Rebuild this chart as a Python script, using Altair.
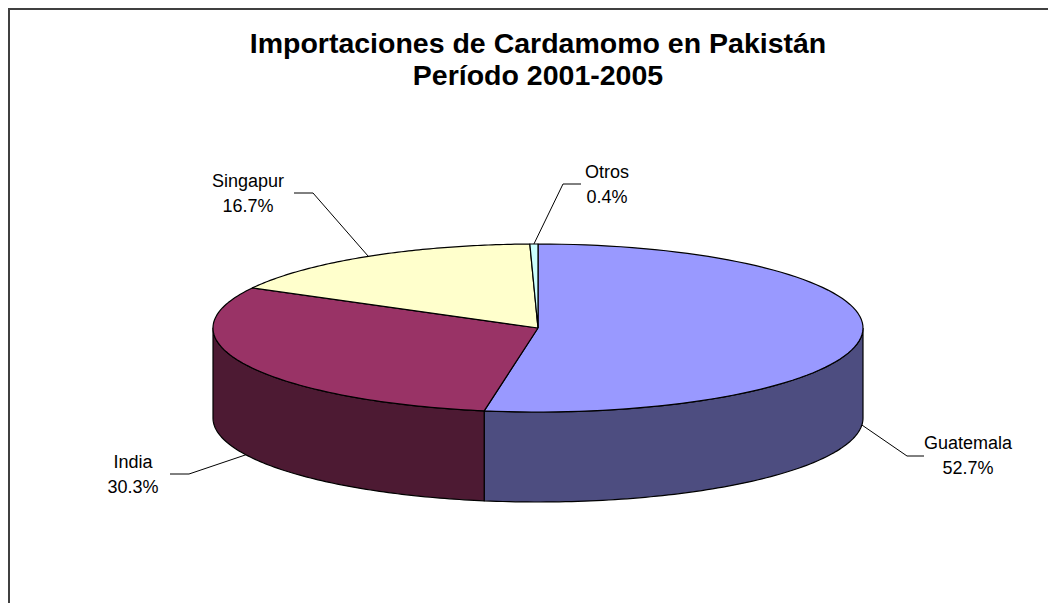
import altair as alt
import pandas as pd

# ---------------- data ----------------
SLICES = ["Guatemala", "India", "Singapur", "Otros"]
SHARES = [52.7, 30.3, 16.7, 0.4]
TITLE_LINES = ["Importaciones de Cardamomo en Pakistán", "Período 2001-2005"]

# ---------------- styles ----------------
TOP_COLORS = ["#9999FF", "#993366", "#FFFFCC", "#CCFFFF"]
SIDE_COLORS = ["#4D4D80", "#4D1A33", "#80805F", "#668080"]
FONT = "Liberation Sans"

# label layout (pixels relative to the pie centre):
# tx/ty text centre, ex leader elbow x, hx leader end x, ly leader y
LABEL_LAYOUT = {
    "Guatemala": dict(tx=430, ty=128, ex=369, hx=386, ly=128),
    "India": dict(tx=-405, ty=147, ex=-349, hx=-368, ly=146),
    "Singapur": dict(tx=-290, ty=-134, ex=-225, hx=-244, ly=-135),
    "Otros": dict(tx=69, ty=-143, ex=25, hx=43, ly=-144),
}
LINE_H = 25

W, H = 1040, 595          # plot size
CX, CY = 530, 320         # pie centre inside plot
A, B, DEPTH = 325, 84, 90  # ellipse semi-axes and 3D depth
N = 90                    # arc resolution

pie = pd.DataFrame({"slice": SLICES, "share": SHARES, "idx": list(range(len(SLICES)))})
layout_df = pd.DataFrame([{"slice": k, **v} for k, v in LABEL_LAYOUT.items()])
lab = pie.merge(layout_df, on="slice")

xs = alt.Scale(domain=[-CX, W - CX], nice=False, zero=False)
ys = alt.Scale(domain=[H - CY, -CY], nice=False, zero=False)


def angles(ch):
    return ch.transform_joinaggregate(total="sum(share)").transform_window(
        cum="sum(share)", sort=[alt.SortField("idx", order="ascending")], frame=[None, 0]
    ).transform_calculate(
        a0="2*PI*(datum.cum - datum.share)/datum.total"
    ).transform_calculate(
        a1="2*PI*datum.cum/datum.total"
    )


X = alt.X("px:Q", scale=xs, axis=None)
Y = alt.Y("py:Q", scale=ys, axis=None)

# side walls (front part of the cylinder)
side = angles(alt.Chart(pie)).transform_calculate(
    s0="max(datum.a0, PI/2)"
).transform_calculate(
    s1="min(datum.a1, 3*PI/2)"
).transform_filter("datum.s1 > datum.s0").transform_calculate(
    t=f"sequence(0, {2 * N + 3})"
).transform_flatten(["t"]).transform_calculate(
    ang=(f"datum.t <= {N} ? datum.s0 + (datum.s1 - datum.s0) * datum.t / {N} : "
         f"(datum.t <= {2 * N + 1} ? datum.s1 - (datum.s1 - datum.s0) * (datum.t - {N + 1}) / {N} : datum.s0)")
).transform_calculate(
    low=f"datum.t > {N} && datum.t <= {2 * N + 1}"
).transform_calculate(
    px=f"{A} * sin(datum.ang)"
).transform_calculate(
    py=f"-{B} * cos(datum.ang) + (datum.low ? {DEPTH} : 0)"
).mark_line(filled=True, stroke="black", strokeWidth=1.2, strokeJoin="round").encode(
    x=X, y=Y,
    order=alt.Order("t:Q"),
    detail="slice:N",
    fill=alt.Fill("slice:N", scale=alt.Scale(domain=SLICES, range=SIDE_COLORS), legend=None),
)

# top faces
top = angles(alt.Chart(pie)).transform_calculate(
    t=f"sequence(0, {N + 3})"
).transform_flatten(["t"]).transform_calculate(
    ang=f"datum.a0 + (datum.a1 - datum.a0) * clamp(datum.t - 1, 0, {N}) / {N}"
).transform_calculate(
    edge=f"datum.t >= 1 && datum.t <= {N + 1}"
).transform_calculate(
    px=f"datum.edge ? {A} * sin(datum.ang) : 0"
).transform_calculate(
    py=f"datum.edge ? -{B} * cos(datum.ang) : 0"
).mark_line(filled=True, stroke="black", strokeWidth=1.2, strokeJoin="round").encode(
    x=X, y=Y,
    order=alt.Order("t:Q"),
    detail="slice:N",
    fill=alt.Fill("slice:N", scale=alt.Scale(domain=SLICES, range=TOP_COLORS), legend=None),
)

# leader lines
leaders = angles(alt.Chart(lab)).transform_calculate(
    mid="(datum.a0 + datum.a1) / 2"
).transform_calculate(
    t="sequence(0, 3)"
).transform_flatten(["t"]).transform_calculate(
    px=f"datum.t == 0 ? {A} * sin(datum.mid) : (datum.t == 1 ? datum.ex : datum.hx)"
).transform_calculate(
    py=f"datum.t == 0 ? -{B} * cos(datum.mid) + (cos(datum.mid) < 0 ? {DEPTH} : 0) : datum.ly"
).mark_line(color="black", strokeWidth=1).encode(
    x=X, y=Y, order=alt.Order("t:Q"), detail="slice:N"
)

# data labels (two centred lines, block centred on ty)
labels = alt.Chart(lab).transform_calculate(
    txt="datum.slice + '\\n' + format(datum.share / 100, '.1%')"
).mark_text(
    lineBreak="\n", font=FONT, fontSize=18, lineHeight=LINE_H, dy=-LINE_H / 2,
    align="center", baseline="middle", color="black"
).encode(
    x=alt.X("tx:Q", scale=xs, axis=None),
    y=alt.Y("ty:Q", scale=ys, axis=None),
    text="txt:N",
)

# title
title = alt.Chart(pd.DataFrame({"title": ["\n".join(TITLE_LINES)]})).mark_text(
    lineBreak="\n", font=FONT, fontSize=28.5, fontWeight="bold", lineHeight=32,
    align="center", baseline="alphabetic", color="black"
).encode(x=alt.value(530), y=alt.value(45), text="title:N")

# outer frame (top and left edges visible in the reference)
frame_df = pd.DataFrame({"k": [0]})
frame_top = alt.Chart(frame_df).mark_rule(color="#404040", strokeWidth=2).encode(
    x=alt.value(0), x2=alt.value(W), y=alt.value(1)
)
frame_left = alt.Chart(frame_df).mark_rule(color="#404040", strokeWidth=2).encode(
    x=alt.value(1), y=alt.value(0), y2=alt.value(H)
)

chart = alt.layer(side, top, leaders, labels, title, frame_top, frame_left).resolve_scale(
    fill="independent"
).properties(
    width=W, height=H, padding=0, autosize=alt.AutoSizeParams(type="none")
).configure_view(stroke="transparent")

chart.save("out.html", embed_options={"renderer": "svg", "actions": False})
